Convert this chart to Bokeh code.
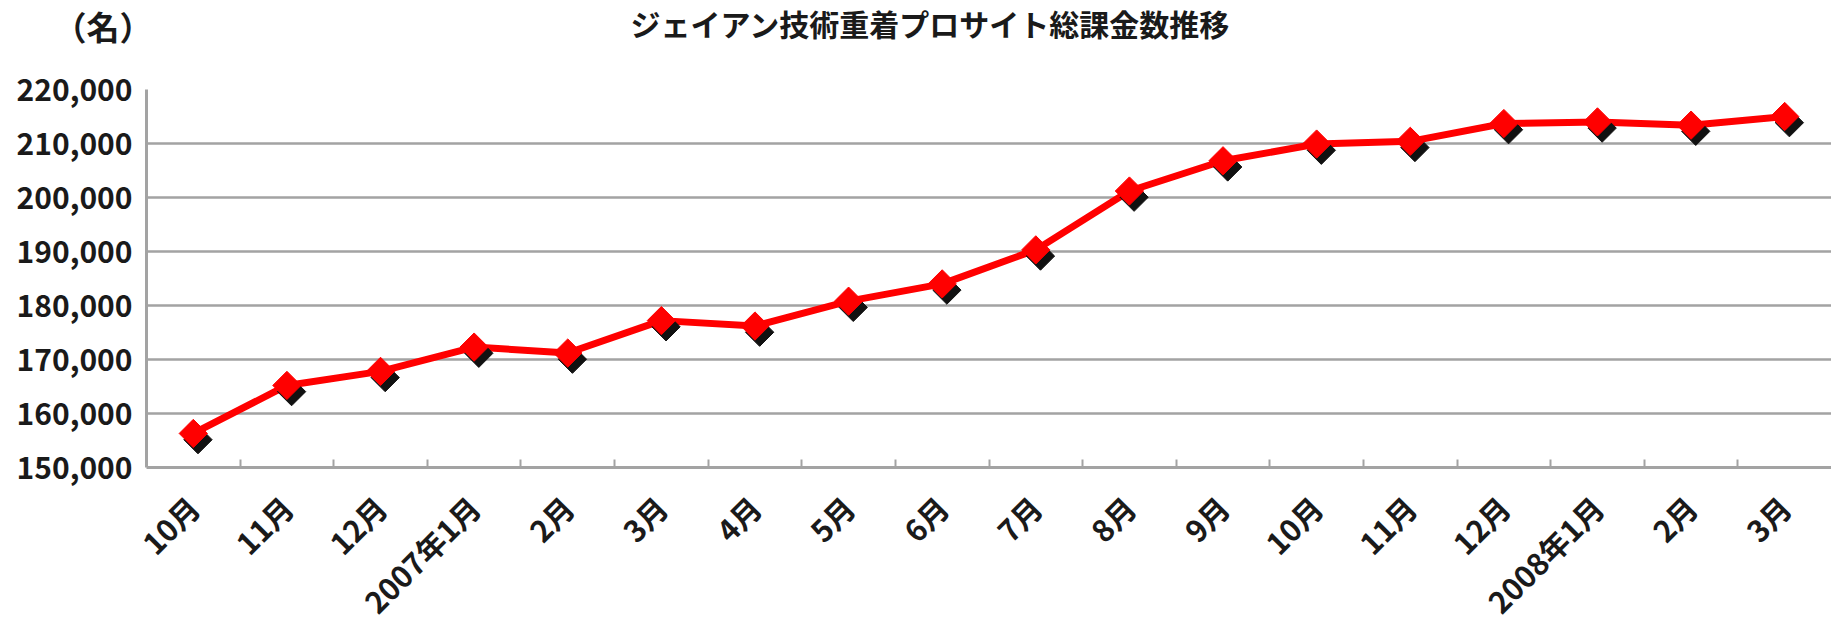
import numpy as np
from bokeh.plotting import figure
from bokeh.layouts import column
from bokeh.models import Range1d, FixedTicker, ColumnDataSource
from bokeh.core.properties import value
from bokeh.transform import dodge
from bokeh.embed import file_html
from bokeh.resources import INLINE

# Monthly totals of paying members (Oct 2006 - Mar 2008)
months = ["10月", "11月", "12月", "2007年1月", "2月", "3月", "4月", "5月", "6月",
          "7月", "8月", "9月", "10月", "11月", "12月", "2008年1月", "2月", "3月"]
subscribers = [156300, 165200, 167800, 172300, 171200, 177200, 176200, 180800, 184000,
               190300, 201200, 206800, 209900, 210400, 213700, 214000, 213400, 215000]
y_ticks = [150000, 160000, 170000, 180000, 190000, 200000, 210000, 220000]
y_tick_labels = ["150,000", "160,000", "170,000", "180,000", "190,000",
                 "200,000", "210,000", "220,000"]
chart_title = "ジェイアン技術重着プロサイト総課金数推移"
unit_label = "（名）"

FONT = "Noto Sans CJK JP"
TEXT = "#1a1a1a"
GRID = "#a3a3a3"
W = 1831
LEFT = 146          # width of the y-axis panel
HEADER_H = 59       # header strip above the chart
TOP_PAD = 30        # room above the plot frame for the top tick label
UNIT_Y = 25         # vertical centre of the unit label within the header

# ---- header strip: chart title, and the unit label set in the axis column
header = figure(width=W, height=HEADER_H, output_backend="svg", toolbar_location=None,
                x_range=Range1d(LEFT, W), y_range=Range1d(HEADER_H, 0),
                min_border=0, min_border_left=LEFT)
header.xaxis.visible = False
header.grid.grid_line_color = None
header.outline_line_color = None
header.border_fill_color = "white"
header.yaxis.ticker = FixedTicker(ticks=[UNIT_Y])
header.yaxis.major_label_overrides = {UNIT_Y: unit_label}
header.yaxis.axis_line_color = None
header.yaxis.major_tick_out = 0
header.yaxis.major_tick_in = 0
header.yaxis.minor_tick_out = 0
header.yaxis.minor_tick_in = 0
header.yaxis.major_label_standoff = -6
header.yaxis.major_label_text_font = FONT
header.yaxis.major_label_text_font_style = "bold"
header.yaxis.major_label_text_font_size = "33px"
header.yaxis.major_label_text_color = TEXT
header.text(x=[930], y=[0], text=[chart_title], text_align="center",
            text_baseline="top", text_font=value(FONT), text_font_style="bold",
            text_font_size="30px", text_color=TEXT)

# ---- main chart
n = len(months)
xs = [i + 0.5 for i in range(n)]
src = ColumnDataSource(dict(x=xs, y=subscribers))

p = figure(frame_width=W - LEFT, frame_height=378, output_backend="svg",
           toolbar_location=None,
           x_range=Range1d(0, n), y_range=Range1d(y_ticks[0], y_ticks[-1]),
           min_border_left=LEFT, min_border_right=0, min_border_top=TOP_PAD,
           min_border_bottom=155)
p.outline_line_color = None
p.background_fill_color = "white"
p.border_fill_color = "white"

# y axis: comma-formatted labels, no tick marks
p.yaxis.ticker = FixedTicker(ticks=y_ticks)
p.yaxis.major_label_overrides = {t: s for t, s in zip(y_ticks, y_tick_labels)}
p.yaxis.major_tick_out = 0
p.yaxis.major_tick_in = 0
p.yaxis.minor_tick_out = 0
p.yaxis.minor_tick_in = 0
p.yaxis.major_label_standoff = 14
p.yaxis.axis_line_color = GRID
p.yaxis.axis_line_width = 3
p.yaxis.major_label_text_font = FONT
p.yaxis.major_label_text_font_style = "bold"
p.yaxis.major_label_text_font_size = "30px"
p.yaxis.major_label_text_color = TEXT

# x axis: labels at category centres, small inward ticks on category boundaries
p.xaxis.ticker = FixedTicker(ticks=xs, minor_ticks=list(range(1, n)))
p.xaxis.major_label_overrides = {x: m for x, m in zip(xs, months)}
p.xaxis.major_tick_out = 0
p.xaxis.major_tick_in = 0
p.xaxis.minor_tick_out = 0
p.xaxis.minor_tick_in = 8
p.xaxis.minor_tick_line_color = GRID
p.xaxis.minor_tick_line_width = 2
p.xaxis.axis_line_color = GRID
p.xaxis.axis_line_width = 3
p.xaxis.major_label_orientation = np.pi / 4
p.xaxis.major_label_standoff = 34
p.xaxis.major_label_text_font = FONT
p.xaxis.major_label_text_font_style = "bold"
p.xaxis.major_label_text_font_size = "30px"
p.xaxis.major_label_text_color = TEXT

p.xgrid.grid_line_color = None
p.ygrid.ticker = FixedTicker(ticks=y_ticks)
p.ygrid.grid_line_color = GRID
p.ygrid.grid_line_width = 2.5

# series line with shadowed diamond markers
p.line("x", "y", source=src, line_color="#ff0000", line_width=7, line_join="round")
p.scatter(dodge("x", 0.05, range=p.x_range), dodge("y", -1150, range=p.y_range),
          source=src, marker="square", angle=np.pi / 4, size=20,
          fill_color="#111111", line_color="#111111")
p.scatter("x", "y", source=src, marker="square", angle=np.pi / 4, size=20,
          fill_color="#ff0000", line_color="#ff0000")

layout = column(header, p, spacing=0)
open("out.html", "w").write(file_html(layout, INLINE))
